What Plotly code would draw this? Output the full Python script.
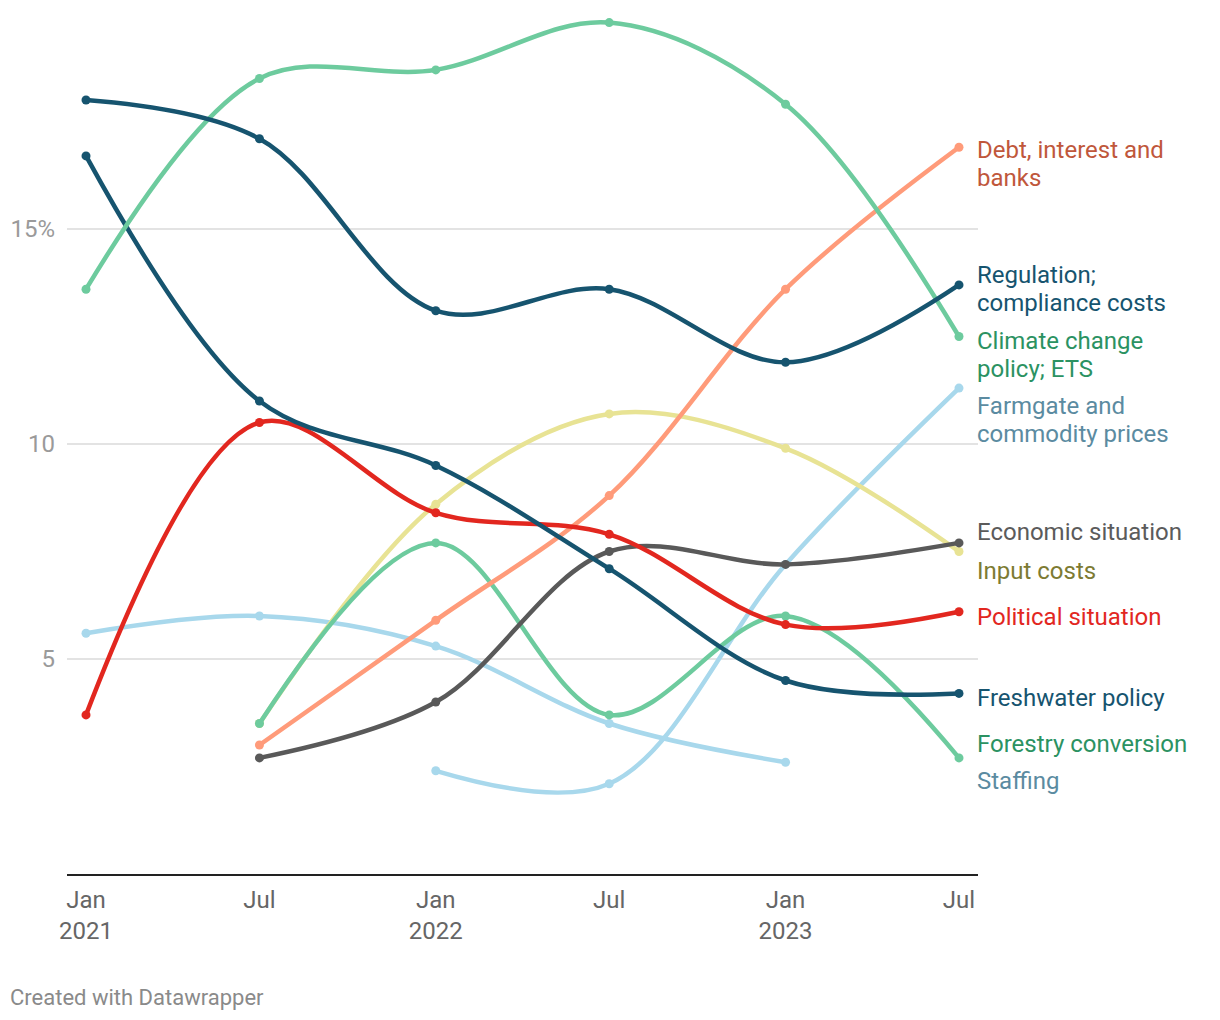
import plotly.graph_objects as go

# ---------------- data ----------------
dates = ["2021-01-01", "2021-07-01", "2022-01-01", "2022-07-01", "2023-01-01", "2023-07-01"]
tick_labels = ["Jan<br>2021", "Jul", "Jan<br>2022", "Jul", "Jan<br>2023", "Jul"]

climate = [13.6, 18.5, 18.7, 19.8, 17.9, 12.5]
regulation = [18.0, 17.1, 13.1, 13.6, 11.9, 13.7]
freshwater = [16.7, 11.0, 9.5, 7.1, 4.5, 4.2]
debt = [None, 3.0, 5.9, 8.8, 13.6, 16.9]
political = [3.7, 10.5, 8.4, 7.9, 5.8, 6.1]
input_costs = [None, 3.5, 8.6, 10.7, 9.9, 7.5]
economic = [None, 2.7, 4.0, 7.5, 7.2, 7.7]
forestry = [None, 3.5, 7.7, 3.7, 6.0, 2.7]
farmgate = [None, None, 2.4, 2.1, 7.2, 11.3]
staffing = [5.6, 6.0, 5.3, 3.5, 2.6, None]

y_ticks = [5, 10, 15]
y_tick_text = ["5", "10", "15%"]

# ---------------- styling ----------------
FONT = "Roboto"
series = [
    # name, values, line colour, label colour, label lines, label shift (px, up positive)
    ("Staffing", staffing, "#a8d8ec", "#5b8ba1", ["Staffing"], -19),
    ("Farmgate and commodity prices", farmgate, "#a8d8ec", "#5b8ba1", ["Farmgate and", "commodity prices"], -18),
    ("Input costs", input_costs, "#e8e394", "#7d7b33", ["Input costs"], -19),
    ("Forestry conversion", forestry, "#6dcb9e", "#2b9262", ["Forestry conversion"], 14),
    ("Economic situation", economic, "#595959", "#5b5b5b", ["Economic situation"], 11),
    ("Debt, interest and banks", debt, "#ff9b7a", "#c0573b", ["Debt, interest and", "banks"], -3),
    ("Political situation", political, "#e2271f", "#e2271f", ["Political situation"], -5),
    ("Freshwater policy", freshwater, "#16546f", "#16546f", ["Freshwater policy"], -5),
    ("Climate change policy; ETS", climate, "#6dcb9e", "#2b9262", ["Climate change", "policy; ETS"], -4),
    ("Regulation; compliance costs", regulation, "#16546f", "#16546f", ["Regulation;", "compliance costs"], 10),
]

fig = go.Figure()
annotations = []
LINE_H = 28
for name, vals, lc, tc, lines, shift in series:
    fig.add_trace(go.Scatter(
        x=dates, y=vals, name=name, mode="lines+markers",
        line=dict(color=lc, width=4.5, shape="spline", smoothing=1.0),
        marker=dict(color=lc, size=9),
        connectgaps=False, showlegend=False, hoverinfo="x+y+name",
    ))
    last = [v for v in vals if v is not None][-1]
    for i, ln in enumerate(lines):
        annotations.append(dict(
            x=1, xref="paper", xanchor="left", xshift=-3,
            y=last, yref="y", yanchor="middle", yshift=shift - i * LINE_H,
            text=ln, showarrow=False, align="left",
            font=dict(family=FONT, size=24, color=tc),
        ))

# page has an 8px body margin; figure is sized to fit inside the window
W, H = 1212, 1012
ML, MR, MT, MB = 59, 242, 6, 146
PW, PH = W - ML - MR, H - MT - MB

annotations.append(dict(
    x=(0 - ML) / PW, xref="paper", xanchor="left",
    y=-(989 - (H - MB)) / PH, yref="paper", yanchor="middle",
    text="Created with Datawrapper", showarrow=False,
    font=dict(family=FONT, size=22, color="#8a8a8a"),
))

fig.update_layout(
    width=W, height=H,
    margin=dict(l=ML, r=MR, t=MT, b=MB, pad=0, autoexpand=False),
    paper_bgcolor="white", plot_bgcolor="white",
    font=dict(family=FONT),
    annotations=annotations,
    xaxis=dict(
        type="date", automargin=False,
        range=["2020-12-12 04:00", "2023-07-20 20:00"],
        tickvals=dates, ticktext=tick_labels,
        showgrid=False, zeroline=False,
        showline=True, linecolor="#222222", linewidth=2,
        ticks="", ticklabelstandoff=3,
        tickfont=dict(family=FONT, size=24, color="#666666"),
    ),
    yaxis=dict(
        range=[0, 20], automargin=False,
        tickvals=y_ticks, ticktext=y_tick_text,
        showgrid=True, gridcolor="#e3e3e3", gridwidth=2,
        zeroline=False, showline=False, ticks="",
        ticklabelstandoff=11,
        tickfont=dict(family=FONT, size=24, color="#9a9a9a"),
    ),
)

fig.write_html("out.html")
